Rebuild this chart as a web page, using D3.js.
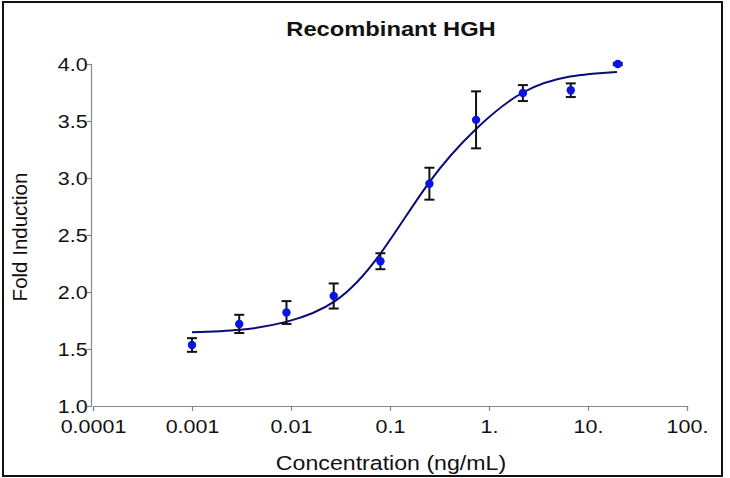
<!DOCTYPE html>
<html>
<head>
<meta charset="utf-8">
<script src="https://cdn.jsdelivr.net/npm/d3@7"></script>
<style>
  body { margin: 0; background: #fff; }
  text { font-family: "Liberation Sans", Arial, sans-serif; fill: #111; }
</style>
</head>
<body>
<div id="chart"></div>
<script>
// Data

const concentrations = [0.001, 0.003, 0.009, 0.027, 0.08, 0.25, 0.74, 2.2, 6.7, 20];           // ng/mL
const foldMeans      = [1.535, 1.72, 1.82, 1.965, 2.27, 2.95, 3.51, 3.745, 3.77, 4.0];          // Mean fold induction
const foldErrors     = [0.06, 0.08, 0.10, 0.11, 0.07, 0.14, 0.25, 0.07, 0.06, 0.01];            // Error bar half-heights

const fitX = [0.001, 0.00305, 0.0091, 0.0278, 0.079, 0.248, 0.74, 2.2, 6.6, 19.6];             // Fitted curve, x
const fitY = [1.646, 1.668, 1.74, 1.92, 2.33, 2.96, 3.43, 3.75, 3.89, 3.93];                   // Fitted curve, y

const xTicks = [0.0001, 0.001, 0.01, 0.1, 1, 10, 100];
const xTickLabels = ["0.0001", "0.001", "0.01", "0.1", "1.", "10.", "100."];
const yTicks = [1.0, 1.5, 2.0, 2.5, 3.0, 3.5, 4.0];

// Layout

const width = 730, height = 478;
const margin = {top: 64, right: 43, bottom: 72, left: 92};
const stretch = 'scale(1.13,1)';                                                     // Reference text is drawn a little wide

const svg = d3.select('#chart').append('svg')
    .attr('width', width)
    .attr('height', height);

svg.append('rect')                                                                   // Outer frame
    .attr('x', 3).attr('y', 2)
    .attr('width', 719).attr('height', 474)
    .attr('fill', 'none')
    .attr('stroke', '#111')
    .attr('stroke-width', 2);

const x = d3.scaleLog().domain([0.0001, 100]).range([margin.left + 1, width - margin.right]);
const y = d3.scaleLinear().domain([1, 4]).range([height - margin.bottom, margin.top]);

// Axes

const xAxis = svg.append('g')
    .attr('transform', 'translate(0,' + y(1) + ')')
    .call(d3.axisBottom(x).tickValues(xTicks).tickSize(5).tickFormat((d, i) => xTickLabels[i]));

const yAxis = svg.append('g')
    .attr('transform', 'translate(' + (margin.left - 1) + ',0)')
    .call(d3.axisLeft(y).tickValues(yTicks).tickSize(4).tickFormat(d3.format('.1f')));

[xAxis, yAxis].forEach(a => {
    a.select('.domain').attr('stroke', '#888').attr('stroke-width', 1.2);
    a.selectAll('.tick line').attr('stroke', '#888').attr('stroke-width', 1.2);
    a.selectAll('.tick text')
        .style('font-family', '"Liberation Sans", Arial, sans-serif')
        .style('font-size', '19px')
        .attr('fill', '#111')
        .attr('transform', stretch);
});
xAxis.selectAll('.tick text').attr('dy', '1.0em');
yAxis.selectAll('.tick text').attr('x', -3).attr('dy', '0.35em');

// Titles

svg.append('g')
    .attr('transform', 'translate(391,36) ' + stretch)
    .append('text')
    .attr('text-anchor', 'middle')
    .style('font-size', '21px')
    .style('font-weight', 'bold')
    .text('Recombinant HGH');

svg.append('g')
    .attr('transform', 'translate(391,470) ' + stretch)
    .append('text')
    .attr('text-anchor', 'middle')
    .style('font-size', '20.5px')
    .text('Concentration (ng/mL)');

svg.append('text')
    .attr('transform', 'translate(27,' + 237 + ') rotate(-90)')
    .attr('text-anchor', 'middle')
    .style('font-size', '20.5px')
    .text('Fold Induction');

// Fitted curve

const fit = fitX.map((c, i) => ({c: c, v: fitY[i]}));
svg.append('path')
    .datum(fit)
    .attr('fill', 'none')
    .attr('stroke', '#0a0a78')
    .attr('stroke-width', 2)
    .attr('d', d3.line().curve(d3.curveNatural).x(d => x(d.c)).y(d => y(d.v)));

// Error bars and points

const points = concentrations.map((c, i) => ({c: c, v: foldMeans[i], e: foldErrors[i]}));

const bars = svg.append('g').selectAll('g')
    .data(points)
    .enter()
    .append('g')
        .attr('stroke', '#111')
        .attr('stroke-width', 2);

bars.append('line')
    .attr('x1', d => x(d.c)).attr('x2', d => x(d.c))
    .attr('y1', d => y(d.v - d.e)).attr('y2', d => y(d.v + d.e));
bars.append('line')
    .attr('x1', d => x(d.c) - 5).attr('x2', d => x(d.c) + 5)
    .attr('y1', d => y(d.v - d.e)).attr('y2', d => y(d.v - d.e));
bars.append('line')
    .attr('x1', d => x(d.c) - 5).attr('x2', d => x(d.c) + 5)
    .attr('y1', d => y(d.v + d.e)).attr('y2', d => y(d.v + d.e));

svg.append('g').selectAll('circle')
    .data(points)
    .enter()
    .append('circle')
        .attr('cx', d => x(d.c))
        .attr('cy', d => y(d.v))
        .attr('r', 4.2)
        .attr('fill', '#0a14e6');
</script>
</body>
</html>
